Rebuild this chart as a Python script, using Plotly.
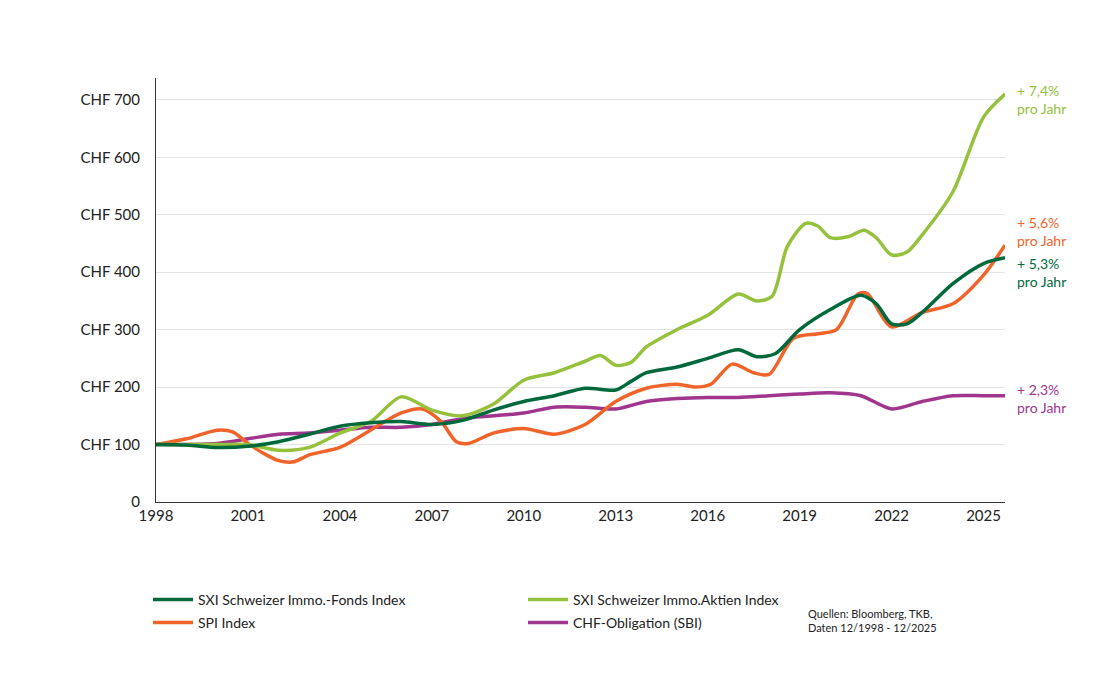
import plotly.graph_objects as go

# Series (year, value)
FONDS_X = [1998, 1999, 2000, 2001, 2002, 2003, 2004, 2005, 2006, 2007, 2008, 2009, 2010, 2011, 2012, 2013, 2013.5,
           2014, 2015, 2016, 2017, 2017.6, 2018.2, 2019, 2020, 2021, 2021.5, 2022, 2022.5, 2023, 2024, 2025, 2025.7]
FONDS_Y = [100, 99, 95, 97, 105, 118, 132, 138, 140, 135, 142, 160, 175, 185, 198, 195, 210,
           225, 235, 250, 265, 253, 258, 300, 335, 360, 345, 310, 310, 330, 380, 415, 425]

AKTIEN_X = [1998, 1999, 2000, 2001, 2002, 2003, 2004, 2005, 2006, 2007, 2008, 2009, 2010, 2011, 2012, 2012.5,
            2013, 2013.5, 2014, 2015, 2016, 2017, 2017.6, 2018.1, 2018.6, 2019.2, 2019.6, 2020, 2020.6, 2021.1,
            2021.5, 2022, 2022.5, 2023, 2024, 2025, 2025.7]
AKTIEN_Y = [100, 100, 100, 100, 90, 95, 120, 140, 183, 160, 150, 170, 212, 225, 245, 255,
            238, 243, 270, 300, 325, 362, 350, 358, 445, 485, 480, 460, 462, 473,
            460, 430, 435, 465, 540, 670, 710]

SPI_X = [1998, 1999, 2000, 2000.5, 2001, 2001.5, 2002, 2002.5, 2003, 2004, 2005, 2006, 2006.7, 2007.3, 2007.8,
         2008.2, 2009, 2010, 2011, 2012, 2013, 2014, 2015, 2015.6, 2016.1, 2016.8, 2017.5, 2018, 2018.8, 2019.6,
         2020.2, 2020.9, 2021.2, 2022, 2023, 2024, 2025, 2025.7]
SPI_Y = [100, 110, 125, 122, 102, 85, 72, 70, 82, 95, 125, 155, 162, 140, 105,
         102, 120, 128, 118, 135, 175, 198, 205, 200, 205, 240, 225, 222, 285, 293,
         300, 362, 363, 305, 330, 345, 395, 447]

SBI_X = [1998, 2000, 2001, 2002, 2003, 2004, 2005, 2006, 2007, 2008, 2009, 2010, 2011, 2012, 2013, 2014,
         2015, 2016, 2017, 2018, 2019, 2020, 2021, 2022, 2023, 2024, 2025, 2025.7]
SBI_Y = [100, 102, 110, 118, 120, 125, 130, 130, 135, 145, 150, 155, 165, 165, 162, 175,
         180, 182, 182, 185, 188, 190, 185, 162, 175, 185, 185, 185]

X_TICKS = [1998, 2001, 2004, 2007, 2010, 2013, 2016, 2019, 2022, 2025]
Y_TICKS = [0, 100, 200, 300, 400, 500, 600, 700]
Y_LABELS = ['0'] + [f'CHF {v}' for v in Y_TICKS[1:]]

GREEN = '#00693C'
LIME = '#95C13D'
ORANGE = '#F0642A'
PURPLE = '#A0358E'
FONT = 'Lato'

fig = go.Figure()
series = [
    ('SXI Schweizer Immo.-Fonds Index', FONDS_X, FONDS_Y, GREEN, 'legend'),
    ('SXI Schweizer Immo.Aktien Index', AKTIEN_X, AKTIEN_Y, LIME, 'legend'),
    ('SPI Index', SPI_X, SPI_Y, ORANGE, 'legend2'),
    ('CHF-Obligation (SBI)', SBI_X, SBI_Y, PURPLE, 'legend2'),
]
# draw order: SBI, SPI, Aktien, Fonds on top
for name, xs, ys, col, leg in [series[3], series[2], series[1], series[0]]:
    fig.add_trace(go.Scatter(x=xs, y=ys, name=name, mode='lines', legend=leg,
                             line=dict(color=col, width=3.5, shape='spline', smoothing=0.8)))

# end labels
for txt, y, col in [('+ 7,4%<br>pro Jahr', 700, LIME), ('+ 5,6%<br>pro Jahr', 470, ORANGE),
                    ('+ 5,3%<br>pro Jahr', 400, GREEN), ('+ 2,3%<br>pro Jahr', 180, PURPLE)]:
    fig.add_annotation(x=1, xref='paper', y=y, yref='y', text=txt, showarrow=False,
                       xanchor='left', xshift=10, align='left', font=dict(color=col, size=14, family=FONT))

fig.add_annotation(x=1025 / 1112, xref='paper', y=(695 - 597) / (695 - 70 - 201) * 1 - 0, yref='paper',
                   text='Quellen: Bloomberg, TKB,<br>Daten 12/1998 - 12/2025', showarrow=False,
                   xanchor='right', yanchor='top', align='left', font=dict(size=11, color='#222', family=FONT))

fig.update_layout(
    width=1112, height=695,
    margin=dict(l=148, r=115, t=70, b=201),
    plot_bgcolor='white', paper_bgcolor='white',
    font=dict(family=FONT, size=15, color='#222'),
    xaxis=dict(range=[1998, 2025.7], tickvals=X_TICKS, showgrid=False, showline=True,
               linecolor='#333', linewidth=1, ticks='', tickfont=dict(size=15), zeroline=False),
    yaxis=dict(range=[0, 738], tickvals=Y_TICKS, ticktext=Y_LABELS, showgrid=True,
               gridcolor='#e4e4e4', showline=True, linecolor='#333', linewidth=1,
               zeroline=False, ticklabelstandoff=12, tickfont=dict(size=15)),
    legend=dict(orientation='h', x=0.0, xref='container', y=(695 - 592) / 695, yref='container',
                xanchor='left', yanchor='middle', entrywidth=320, font=dict(size=14),
                traceorder='reversed', itemwidth=40),
    legend2=dict(orientation='h', x=0.0, xref='container', y=(695 - 615) / 695, yref='container',
                 xanchor='left', yanchor='middle', entrywidth=320, font=dict(size=14),
                 traceorder='reversed', itemwidth=40),
)
fig.update_layout(legend=dict(x=140 / 1112), legend2=dict(x=140 / 1112))
# source note fix: position in paper coords below axis
fig.layout.annotations[-1].update(y=-(597 - 494) / (494 - 70))

fig.write_html('out.html')
